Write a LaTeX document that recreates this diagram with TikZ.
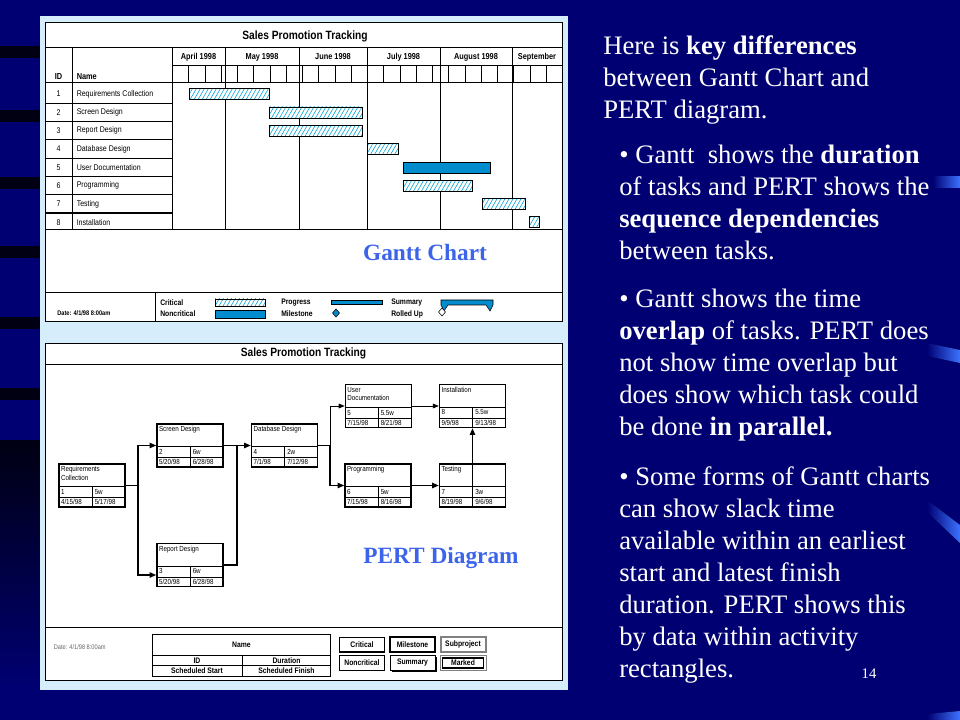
\documentclass[tikz,border=0pt]{standalone}
\usepackage{fontspec}
\setmainfont{Liberation Serif}
\newfontfamily\chartfont[FakeStretch=0.85]{Liberation Sans}
\usetikzlibrary{positioning,calc,arrows.meta,patterns.meta,shadows}

\definecolor{slidebg}{RGB}{0,0,115}
\definecolor{stripe}{RGB}{0,0,18}
\definecolor{panelblue}{RGB}{214,238,252}
\definecolor{barblue}{RGB}{0,140,205}
\definecolor{hatchblue}{RGB}{0,165,215}
\definecolor{labelblue}{RGB}{60,100,235}
\definecolor{streak}{RGB}{60,115,255}

% activity box: name, x, y, border, title, id, duration, start, finish
\newcommand{\pertbox}[9]{%
  \node[pert, #4] (#1) at (#2,#3) {};
  \draw[thinln] ($(#1.north west)+(0,23)$) -- ($(#1.north east)+(0,23)$);
  \draw[thinln] ($(#1.north west)+(0,34)$) -- ($(#1.north east)+(0,34)$);
  \draw[thinln] ($(#1.north)+(0,23)$) -- (#1.south);
  \node[ptxt, anchor=north west] (#1-t) at ($(#1.north west)+(2.5,3)$) {#5};
  \node[ptxt, anchor=west] (#1-i) at ($(#1.north west)+(2.5,28.5)$) {#6};
  \node[ptxt, anchor=west] (#1-d) at ($(#1.north)+(2.5,28.5)$) {#7};
  \node[ptxt, anchor=west] (#1-s) at ($(#1.north west)+(2.5,38.8)$) {#8};
  \node[ptxt, anchor=west] (#1-f) at ($(#1.north)+(2.5,38.8)$) {#9};
}

\begin{document}
\begin{tikzpicture}[
  x=0.75pt, y=-0.75pt,
  every node/.style={inner sep=0pt},
  chart/.style={draw=black, line width=0.6pt, fill=white},
  thinln/.style={line width=0.4pt},
  rowsep/.style={line width=0.9pt},
  ttl/.style={font=\chartfont\bfseries\fontsize{9}{10}\selectfont},
  hdr/.style={font=\chartfont\bfseries\fontsize{6.5}{7}\selectfont},
  rowtxt/.style={font=\chartfont\fontsize{6.2}{7}\selectfont},
  legtxt/.style={font=\chartfont\bfseries\fontsize{6}{7}\selectfont, anchor=west},
  keytxt/.style={font=\chartfont\bfseries\fontsize{6}{7}\selectfont},
  critbar/.style={draw=black, line width=0.4pt, preaction={fill=white},
                  pattern={Lines[angle=60,distance=2.6pt,line width=0.45pt]},
                  pattern color=hatchblue},
  ncbar/.style={draw=black, line width=0.4pt, fill=barblue},
  bigname/.style={font=\fontsize{17.5}{20}\selectfont\bfseries, text=labelblue},
  pert/.style={draw, fill=white, minimum width=49.5pt, minimum height=32.25pt},
  critbox/.style={line width=1.1pt},
  ncbox/.style={line width=0.5pt},
  ptxt/.style={font=\chartfont\fontsize{5.5}{6.3}\selectfont, align=left},
  critarr/.style={line width=1.1pt, -{Triangle[length=5pt,width=4pt]}},
  ncarr/.style={line width=0.5pt, -{Triangle[length=4.5pt,width=3.6pt]}},
  critline/.style={line width=1.1pt, line cap=rect},
  keybox/.style={draw, fill=white, font=\chartfont\bfseries\fontsize{6}{7}\selectfont,
                 minimum width=33.75pt, minimum height=11pt},
  slide/.style={text=white, font=\fontsize{20}{24}\selectfont, align=left, anchor=base west}
]
\useasboundingbox (0,0) rectangle (960,720);

% slide background
\fill[slidebg] (0,0) rectangle (960,720);
\shade[top color=stripe, bottom color=slidebg] (0,440) rectangle (40,690);
\foreach \y in {46,110,177,246,317,388}
  \fill[stripe] (0,\y) rectangle (40,{\y+12});
\fill[left color=slidebg, right color=streak] (933,177) rectangle (960,188);
\fill[left color=slidebg, right color=streak] (927,343) -- (960,350) -- (960,363) -- (927,356) -- cycle;
\fill[left color=slidebg, right color=streak] (927,500) -- (960,525) -- (960,543) -- (927,512) -- cycle;
\fill[left color=slidebg, right color=streak] (927,714) -- (960,711) -- (960,720) -- (927,720) -- cycle;
\fill[panelblue] (40,16) rectangle (568,690);

% Gantt chart
\draw[chart] (45,22.5) rectangle (562,321);
\node[ttl] (gtitle) at (305,36) {Sales Promotion Tracking};
\draw[thinln] (45,47) -- (562,47);
\draw[thinln] (172,65.5) -- (562,65.5);
\draw[thinln] (45,82) -- (562,82);
\draw[thinln] (72,47) -- (72,229);
\draw[thinln] (172,47) -- (172,229);
\foreach \x in {225,299,367,440,512}
  \draw[thinln] (\x,47) -- (\x,229);
\foreach \k in {1,...,23}
  \draw[thinln] ({172.4+16.25*\k},65.5) -- ++(0,16.5);
\foreach \m/\x [count=\j] in {April 1998/198.5, May 1998/262, June 1998/333,
    July 1998/403.5, August 1998/476, September/537}
  \node[hdr] (mon\j) at (\x,57) {\m};
\node[hdr] (idh) at (58.5,77) {ID};
\node[hdr, anchor=west] (nameh) at (76.5,77) {Name};
\foreach \t [count=\i] in {Requirements Collection, Screen Design, Report Design,
    Database Design, User Documentation, Programming, Testing, Installation} {
  \node[rowtxt] (id\i) at (58.5,{85+18.3*(\i-0.5)}) {\i};
  \node[rowtxt, anchor=west] (task\i) at (76.5,{85+18.3*(\i-0.5)}) {\t};
}
\foreach \i in {1,...,7}
  \draw[rowsep] (45,{85+18.3*\i}) -- (172,{85+18.3*\i});
\draw[thinln] (45,229) -- (562,229);
\foreach \i/\a/\b in {1/189/269, 2/269/362, 3/269/362, 4/367/398,
    6/403/472, 7/482/525, 8/529/539}
  \draw[critbar] (\a,{85+18.3*(\i-0.5)-5.5}) rectangle (\b,{85+18.3*(\i-0.5)+5.5});
\draw[ncbar] (403,{85+18.3*4.5-5.5}) rectangle (490,{85+18.3*4.5+5.5});
\node[bigname] (glabel) at (425,253) {Gantt Chart};

% Gantt legend
\draw[thinln] (45,292.5) -- (562,292.5);
\draw[thinln] (155,292.5) -- (155,321);
\node[legtxt, font=\chartfont\bfseries\fontsize{5}{6}\selectfont] (gdate) at (57,313) {Date: 4/1/98 8:00am};
\node[legtxt] (lcrit) at (160,303) {Critical};
\node[legtxt] (lnc) at (160,314) {Noncritical};
\node[legtxt] (lprog) at (281,303) {Progress};
\node[legtxt] (lmile) at (281,314) {Milestone};
\node[legtxt] (lsum) at (391,303) {Summary};
\node[legtxt] (lroll) at (391,314) {Rolled Up};
\draw[critbar] (215,299) rectangle (265,306);
\draw[ncbar] (215,310) rectangle (265,318);
\draw[ncbar] (331,300) rectangle (382,304);
\draw[ncbar] (336,309) -- (339.5,313) -- (336,317) -- (332.5,313) -- cycle;
\draw[ncbar] (441,300) -- (493,300) -- (493,305) -- (490,311) -- (486,305)
  -- (448,305) -- (444,311) -- (441,305) -- cycle;
\draw[thinln, fill=white] (442,308) -- (445.5,312) -- (442,316) -- (438.5,312) -- cycle;

% PERT diagram
\draw[chart] (45,343) rectangle (562,680);
\node[ttl] (ptitle) at (303.5,353.5) {Sales Promotion Tracking};
\draw[thinln] (45,364) -- (562,364);
\pertbox{req}{92}{485.5}{critbox}{Requirements\\Collection}{1}{5w}{4/15/98}{5/17/98}
\pertbox{scr}{190}{445.5}{critbox}{Screen Design}{2}{6w}{5/20/98}{6/28/98}
\pertbox{rep}{190}{565}{critbox}{Report Design}{3}{6w}{5/20/98}{6/28/98}
\pertbox{db}{284.5}{445.5}{critbox}{Database Design}{4}{2w}{7/1/98}{7/12/98}
\pertbox{udoc}{378}{406}{ncbox}{User\\Documentation}{5}{5.5w}{7/15/98}{8/21/98}
\pertbox{prog}{378}{485.5}{critbox}{Programming}{6}{5w}{7/15/98}{8/16/98}
\pertbox{test}{472.5}{485.5}{critbox}{Testing}{7}{3w}{8/19/98}{9/6/98}
\pertbox{inst}{472.5}{406}{critbox}{Installation}{8}{5.5w}{9/9/98}{9/13/98}

\coordinate (j1) at (138,485.5);
\coordinate (j2) at (237,445.5);
\coordinate (j3) at (330,445.5);
\draw[critline] (req.east) -- (j1);
\draw[critarr] (j1) |- (scr.west);
\draw[critarr] (j1) |- ($(rep.west)+(0,10)$);
\draw[critarr] (scr.east) -- (db.west);
\draw[critline] (rep.east) -| (j2);
\draw[critline] (db.east) -- (j3);
\draw[ncarr] (j3) |- (udoc.west);
\draw[critarr] (j3) |- (prog.west);
\draw[ncarr] (udoc.east) -- (inst.west);
\draw[critarr] (prog.east) -- (test.west);
\draw[critarr] ($(test.north)+(0,23)$) -- (inst.south);
\node[bigname] (plabel) at (441,558) {PERT Diagram};

% PERT legend
\draw[thinln] (45,627) -- (562,627);
\node[font=\chartfont\fontsize{5}{6}\selectfont, text=black!60, anchor=west] (pdate) at (53.5,647.5) {Date: 4/1/98 8:00am};
\draw[line width=0.6pt] (152.5,634) rectangle (330.5,676);
\draw[thinln] (152.5,655) -- (330.5,655);
\draw[thinln] (152.5,665.5) -- (330.5,665.5);
\draw[thinln] (242,655) -- (242,676);
\node[keytxt] (kname) at (241.5,644.5) {Name};
\node[keytxt] (kid) at (197,660.3) {ID};
\node[keytxt] (kdur) at (286.5,660.3) {Duration};
\node[keytxt] (kss) at (197,670.8) {Scheduled Start};
\node[keytxt] (ksf) at (286.5,670.8) {Scheduled Finish};
\node[keybox, line width=1pt] (kcrit) at (362,644.5) {Critical};
\node[keybox, line width=1.8pt] (kmile) at (412.5,644.5) {Milestone};
\node[keybox, draw=gray, line width=1.5pt] (ksub) at (463,644.5) {Subproject};
\node[keybox, line width=0.4pt] (knc) at (362,663) {Noncritical};
\node[keybox, line width=0.5pt,
      drop shadow={shadow xshift=1.2pt, shadow yshift=-1.2pt, fill=black, opacity=1}] (ksum) at (412.5,663) {Summary};
\node[keybox, line width=0.8pt, minimum width=30.75pt, minimum height=7.5pt] (kmark) at (463,663) {Marked};
\draw[gray, line width=0.5pt] ($(kmark.north west)+(-2,-2)$) rectangle ($(kmark.south east)+(2,2)$);

% slide text (anchored at the last line)
\node[slide] (intro) at (603,119) {Here is \textbf{key differences}\\between Gantt Chart and\\PERT diagram.};
\node[slide] (pt1) at (619,260) {\textbullet\ Gantt\ \ shows the \textbf{duration}\\of tasks and PERT shows the\\\textbf{sequence dependencies}\\between tasks.};
\node[slide] (pt2) at (619,435) {\textbullet\ Gantt shows the time\\\textbf{overlap} of tasks. PERT does\\not show time overlap but\\does show which task could\\be done \textbf{in parallel.}};
\node[slide] (pt3) at (619,677) {\textbullet\ Some forms of Gantt charts\\can show slack time\\available within an earliest\\start and latest finish\\duration. PERT shows this\\by data within activity\\rectangles.};
\node[font=\fontsize{11}{13}\selectfont, text=white, anchor=base] (pgno) at (869,678) {14};
\end{tikzpicture}
\end{document}
